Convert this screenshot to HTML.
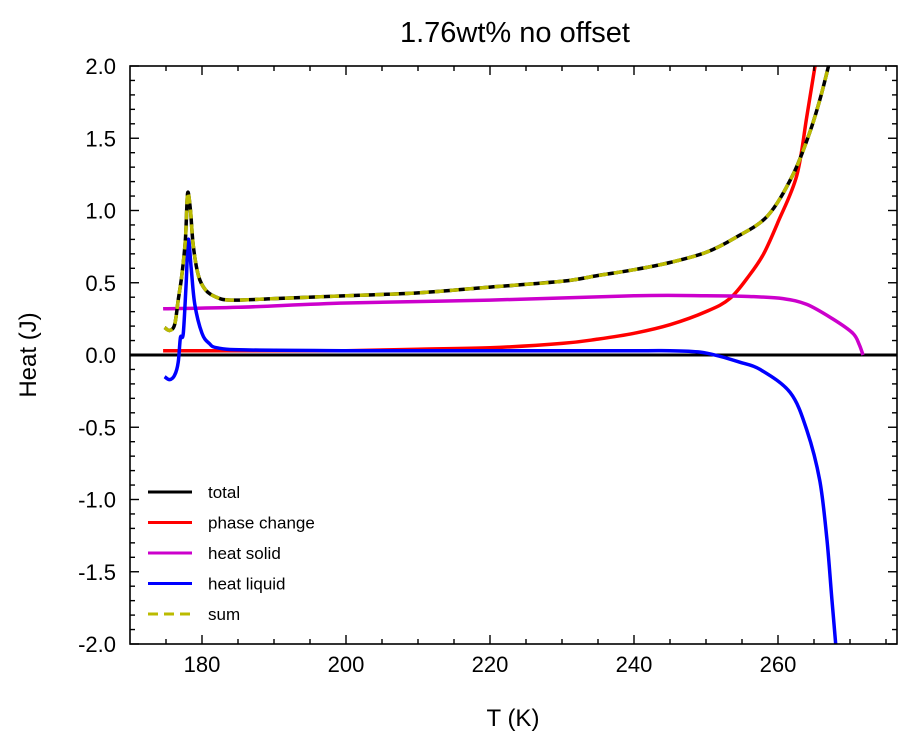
<!DOCTYPE html>
<html><head><meta charset="utf-8"><style>
body{margin:0;background:#fff}
svg text{font-family:"Liberation Sans",sans-serif}
</style></head><body>
<svg id="c" width="913" height="746">
<defs><clipPath id="pc"><rect x="130" y="66" width="767" height="578"/></clipPath></defs>
<g id="marks" clip-path="url(#pc)"></g>
<rect x="130" y="66" width="767" height="578" fill="none" stroke="#000" stroke-width="1.6"/>
<g id="axes"></g>
<text x="515" y="42" font-size="29" text-anchor="middle">1.76wt% no offset</text>
<text x="513" y="726" font-size="24" text-anchor="middle">T (K)</text>
<text x="36" y="355" font-size="24" text-anchor="middle" transform="rotate(-90 36 355)">Heat (J)</text>
<g id="legend"></g>
</svg>
<script>
const xTicks=[180,200,220,240,260];
const yTicks=[-2.0,-1.5,-1.0,-0.5,0.0,0.5,1.0,1.5,2.0];
const totalT=[174.8,175.5,176.2,176.7,177.2,177.7,178.0,178.4,178.8,179.5,180.5,182,184,190,200,210,220,230,235,240,245,250,254,258.5,262,264.4,266,267.5];
const totalV=[0.19,0.17,0.21,0.38,0.55,0.8,1.12,1.0,0.75,0.55,0.45,0.4,0.38,0.39,0.41,0.43,0.47,0.51,0.55,0.59,0.64,0.71,0.81,0.96,1.24,1.54,1.8,2.1];
const phaseT=[174.6,190,200,210,220,230,235,240,245,250,253.3,256,258,260,262.6,264,265.3];
const phaseV=[0.03,0.03,0.03,0.04,0.05,0.08,0.11,0.15,0.21,0.3,0.39,0.55,0.7,0.92,1.24,1.65,2.05];
const solidT=[174.6,185,200,220,240,250,256,260.7,264,267.6,270.4,271.3,271.8];
const solidV=[0.32,0.33,0.36,0.38,0.41,0.41,0.405,0.39,0.35,0.25,0.15,0.07,0];
const liquidT=[174.8,175.5,176.2,176.7,177,177.4,177.8,178.1,178.5,179,180,181,182.1,186,200,220,240,245,249.2,252,254.7,257.5,261.7,264,265.8,266.8,267.5,268.1];
const liquidV=[-0.15,-0.17,-0.14,-0.05,0.12,0.15,0.5,0.8,0.6,0.35,0.15,0.08,0.05,0.035,0.03,0.03,0.03,0.03,0.02,-0.01,-0.05,-0.1,-0.26,-0.52,-0.87,-1.28,-1.7,-2.05];
const X=t=>130+(t-170)*7.2, Y=v=>355-v*144.5;
const NS="http://www.w3.org/2000/svg";
function mk(tag,a,p){const e=document.createElementNS(NS,tag);for(const k in a)e.setAttribute(k,a[k]);p.appendChild(e);return e;}
const marks=document.getElementById('marks'),axes=document.getElementById('axes'),leg=document.getElementById('legend');
let z=mk('line',{x1:130,x2:897,y1:Y(0),y2:Y(0),stroke:'#000','stroke-width':3},marks);


function smooth(P){let d='M'+P[0][0].toFixed(1)+','+P[0][1].toFixed(1);
for(let i=0;i<P.length-1;i++){const p0=P[Math.max(0,i-1)],p1=P[i],p2=P[i+1],p3=P[Math.min(P.length-1,i+2)];
const c1=[p1[0]+(p2[0]-p0[0])/6,p1[1]+(p2[1]-p0[1])/6],c2=[p2[0]-(p3[0]-p1[0])/6,p2[1]-(p3[1]-p1[1])/6];
d+='C'+c1.map(v=>v.toFixed(1)).join(',')+' '+c2.map(v=>v.toFixed(1)).join(',')+' '+p2[0].toFixed(1)+','+p2[1].toFixed(1);}
return d;}
function pl(T,V,col,name,dash){const d=smooth(T.map((t,i)=>[X(t),Y(V[i])]));
const p=mk('path',{d:d,fill:'none',stroke:col,'stroke-width':3.5,'stroke-linejoin':'round'},marks);
if(dash)p.setAttribute('stroke-dasharray',dash);

}
pl(phaseT,phaseV,'#f00','phase-change-line');
pl(solidT,solidV,'#c0c','heat-solid-line');
pl(liquidT,liquidV,'#00f','heat-liquid-line');
pl(totalT,totalV,'#000','total-line');
pl(totalT,totalV,'#bb0','sum-line','9,6');
for(let t=175;t<=275;t+=5){const maj=xTicks.includes(t),L=maj?9:5;
mk('line',{x1:X(t),x2:X(t),y1:644,y2:644-L,stroke:'#000','stroke-width':1.4},axes);
mk('line',{x1:X(t),x2:X(t),y1:66,y2:66+L,stroke:'#000','stroke-width':1.4},axes);}
xTicks.forEach(t=>{const e=mk('text',{x:X(t),y:672,'font-size':22,'text-anchor':'middle'},axes);e.textContent=t;

});
for(let i=-20;i<=20;i++){const v=i/10,maj=i%5===0,L=maj?9:5;
mk('line',{x1:130,x2:130+L,y1:Y(v),y2:Y(v),stroke:'#000','stroke-width':1.4},axes);
mk('line',{x1:897,x2:897-L,y1:Y(v),y2:Y(v),stroke:'#000','stroke-width':1.4},axes);}
yTicks.forEach(v=>{const e=mk('text',{x:116,y:Y(v)+8,'font-size':22,'text-anchor':'end'},axes);e.textContent=v.toFixed(1);

});
const legNames=['total','phase change','heat solid','heat liquid','sum'],legCols=['#000','#f00','#c0c','#00f','#bb0'];
legNames.forEach((n,i)=>{const y=492+i*30.5;const g=mk('g',{},leg);


const l=mk('line',{x1:148,x2:192,y1:y,y2:y,stroke:legCols[i],'stroke-width':3},g);if(i==4)l.setAttribute('stroke-dasharray','10,6');
const t=mk('text',{x:208,y:y+6,'font-size':17},g);t.textContent=n;});
</script>
</body></html>
